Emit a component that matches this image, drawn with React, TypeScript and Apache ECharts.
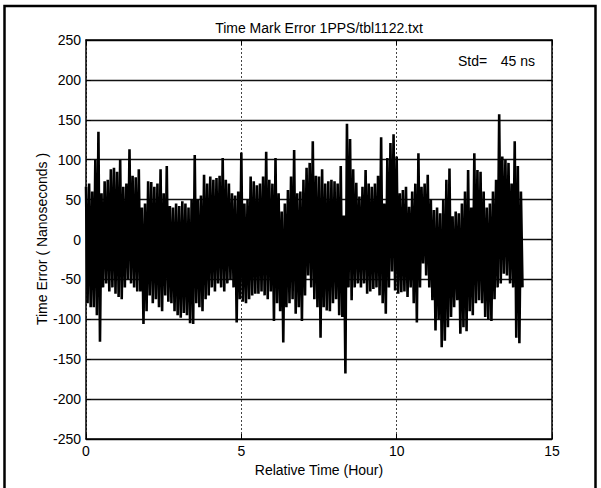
import React, { useEffect, useRef } from "react";
import * as echarts from "echarts";

// Sample step (hours) between successive envelope readings
const stepHours = 0.1;

// Upper envelope of the trace, read every 0.1 h from 0 to 14 h (ns)
const upperPeaks = [
  66, 70, 60, 100, 135, 58, 73, 75, 88, 90,
  85, 100, 66, 70, 113, 80, 78, 88, 40, 45,
  73, 72, 66, 70, 88, 58, 92, 42, 40, 45,
  42, 48, 45, 40, 50, 106, 50, 55, 81, 70,
  79, 75, 77, 80, 102, 75, 70, 58, 55, 60,
  109, 45, 50, 79, 73, 68, 70, 79, 110, 75,
  70, 102, 58, 35, 45, 62, 79, 112, 58, 60,
  75, 90, 96, 123, 80, 79, 88, 70, 73, 75,
  73, 70, 92, 30, 145, 126, 88, 71, 54, 66,
  87, 70, 66, 70, 80, 128, 45, 102, 121, 132,
  104, 58, 62, 66, 41, 60, 70, 108, 66, 70,
  81, 50, 37, 40, 33, 50, 75, 89, 29, 35,
  33, 45, 60, 87, 40, 108, 87, 85, 60, 40,
  45, 60, 75, 157, 104, 100, 96, 70, 123, 92,
  60,
];

// Lower envelope of the trace, read every 0.1 h from 0 to 14 h (ns)
const lowerTroughs = [
  -80, -85, -85, -95, -128, -60, -55, -65, -60, -68,
  -72, -75, -60, -50, -55, -60, -65, -65, -106, -90,
  -70, -80, -75, -85, -90, -70, -78, -80, -90, -95,
  -98, -92, -95, -105, -106, -80, -85, -90, -75, -70,
  -60, -65, -55, -60, -65, -55, -50, -60, -104, -75,
  -78, -80, -75, -70, -68, -68, -65, -70, -75, -65,
  -102, -80, -90, -129, -85, -80, -75, -93, -85, -102,
  -70, -45, -60, -75, -85, -123, -85, -89, -90, -80,
  -75, -95, -97, -168, -60, -76, -60, -55, -60, -55,
  -68, -65, -62, -60, -70, -80, -93, -60, -40, -64,
  -68, -66, -65, -72, -60, -80, -104, -60, -30, -45,
  -60, -76, -114, -100, -135, -127, -110, -97, -85, -76,
  -118, -110, -115, -90, -95, -80, -76, -80, -97, -100,
  -102, -75, -60, -55, -43, -45, -55, -60, -123, -130,
  -60,
];

const xTicks = [0, 5, 10, 15];
const yTicks = [-250, -200, -150, -100, -50, 0, 50, 100, 150, 200, 250];

const FONT = '"Liberation Sans", Arial, Helvetica, sans-serif';

export default function App() {
  const ref = useRef<HTMLDivElement>(null);

  useEffect(() => {
    if (!ref.current) return;
    const chart = echarts.init(ref.current, undefined, { renderer: "svg" });

    const data: [number, number][] = [];
    for (let i = 0; i < upperPeaks.length; i++) {
      const t = i * stepHours;
      data.push([t, upperPeaks[i]]);
      data.push([t + stepHours / 2, lowerTroughs[i]]);
    }

    const xMin = xTicks[0];
    const xMax = xTicks[xTicks.length - 1];
    const yMin = yTicks[0];
    const yMax = yTicks[yTicks.length - 1];

    chart.setOption({
      animation: false,
      backgroundColor: "#fff",
      textStyle: { fontFamily: FONT },
      grid: { left: 86, right: 49, top: 40, bottom: 49, containLabel: false },
      xAxis: [
        {
          type: "value",
          min: xMin,
          max: xMax,
          interval: 5,
          position: "bottom",
          name: "Relative Time (Hour)",
          nameLocation: "middle",
          nameGap: 24,
          nameTextStyle: { color: "#000", fontSize: 14, fontFamily: FONT },
          axisLine: { show: true, onZero: false, lineStyle: { color: "#000", width: 1.5 } },
          axisTick: { show: true, inside: true, length: 5, lineStyle: { color: "#000" } },
          axisLabel: { color: "#000", fontSize: 14, fontFamily: FONT, margin: 5 },
          splitLine: { show: true, lineStyle: { color: "#444", width: 1, type: [2, 2] } },
        },
        {
          type: "value",
          min: xMin,
          max: xMax,
          interval: 5,
          position: "top",
          axisLine: { show: true, onZero: false, lineStyle: { color: "#000", width: 1.5 } },
          axisTick: { show: true, inside: true, length: 5, lineStyle: { color: "#000" } },
          axisLabel: { show: false },
          splitLine: { show: false },
        },
      ],
      yAxis: [
        {
          type: "value",
          min: yMin,
          max: yMax,
          interval: 50,
          position: "left",
          axisLine: { show: true, onZero: false, lineStyle: { color: "#000", width: 1.5 } },
          axisTick: { show: true, inside: true, length: 5, lineStyle: { color: "#000" } },
          axisLabel: { color: "#000", fontSize: 14, fontFamily: FONT, margin: 5 },
          splitLine: { show: true, lineStyle: { color: "#111", width: 1.4, type: "solid" } },
        },
        {
          type: "value",
          min: yMin,
          max: yMax,
          interval: 50,
          position: "right",
          axisLine: { show: true, onZero: false, lineStyle: { color: "#000", width: 1.5 } },
          axisTick: { show: true, inside: true, length: 5, lineStyle: { color: "#000" } },
          axisLabel: { show: false },
          splitLine: { show: false },
        },
      ],
      series: [
        {
          type: "line",
          xAxisIndex: 0,
          yAxisIndex: 0,
          data,
          showSymbol: false,
          symbol: "none",
          clip: true,
          lineStyle: { color: "#000", width: 2.6, join: "bevel", cap: "butt" },
        },
      ],
      graphic: [
        {
          type: "rect",
          shape: { x: 4.5, y: 6, width: 591, height: 500 },
          style: { fill: "none", stroke: "#000", lineWidth: 2.5 },
          silent: true,
        },
        {
          type: "text",
          x: 319,
          y: 28,
          style: {
            text: "Time Mark Error 1PPS/tbl1122.txt",
            font: `14px ${FONT}`,
            fill: "#000",
            align: "center",
            verticalAlign: "middle",
          },
        },
        {
          type: "text",
          x: 42,
          y: 239,
          rotation: Math.PI / 2,
          style: {
            text: "Time Error ( Nanoseconds )",
            font: `14px ${FONT}`,
            fill: "#000",
            align: "center",
            verticalAlign: "middle",
          },
        },
        {
          type: "text",
          x: 458,
          y: 61,
          style: {
            text: "Std=",
            font: `14px ${FONT}`,
            fill: "#000",
            align: "left",
            verticalAlign: "middle",
          },
        },
        {
          type: "text",
          x: 535,
          y: 61,
          style: {
            text: "45 ns",
            font: `14px ${FONT}`,
            fill: "#000",
            align: "right",
            verticalAlign: "middle",
          },
        },
      ],
    });

    return () => {
      chart.dispose();
    };
  }, []);

  return (
    <div
      ref={ref}
      style={{ position: "fixed", left: 0, top: 0, width: 601, height: 488, background: "#fff" }}
    />
  );
}
